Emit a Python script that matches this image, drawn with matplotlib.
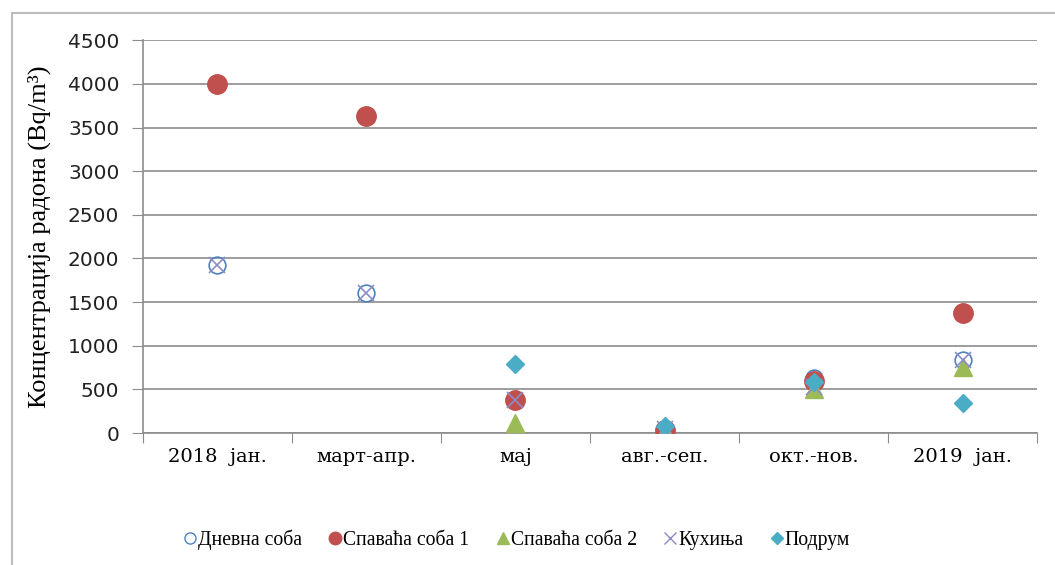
import numpy as np
import matplotlib
matplotlib.use("Agg")
import matplotlib.pyplot as plt
from matplotlib.lines import Line2D
from matplotlib.patches import Rectangle

periods = ["2018  јан.", "март-апр.", "мај", "авг.-сеп.", "окт.-нов.", "2019  јан."]
dnevna = [1930, 1600, 380, 50, 630, 840]
spavaca1 = [4000, 3630, 380, 40, 600, 1380]
spavaca2 = [np.nan, np.nan, 120, 20, 500, 760]
kuhinja = [1930, 1600, 380, 50, 530, 840]
podrum = [np.nan, np.nan, 790, 80, 590, 345]

labels = ["Дневна соба", "Спаваћа соба 1", "Спаваћа соба 2", "Кухиња", "Подрум"]

fig = plt.figure(figsize=(10.55, 5.65), dpi=100)
ax = fig.add_axes([0.1355, 0.2336, 0.8475, 0.695])

x = np.arange(len(periods))
grey = "#8c8c8c"

# series in the original drawing order
ax.plot(x, dnevna, linestyle="none", marker="o", ms=12, mfc="none",
        mec="#4F81BD", mew=1.2, zorder=3)
ax.plot(x, spavaca1, linestyle="none", marker="o", ms=14,
        color="#C0504D", zorder=4)
ax.plot(x, spavaca2, linestyle="none", marker="^", ms=13,
        color="#9BBB59", zorder=5)
ax.plot(x, kuhinja, linestyle="none", marker="x", ms=12, mew=1.2,
        color="#8C8CC8", zorder=6)
ax.plot(x, podrum, linestyle="none", marker="D", ms=9,
        color="#4BACC6", zorder=7)

ax.set_ylim(0, 4500)
ax.set_yticks(np.arange(0, 4501, 500))
ax.set_xlim(-0.5, len(periods) - 0.5)
ax.set_xticks(np.arange(-0.5, len(periods), 1.0))
ax.set_xticklabels([])
ax.set_xticks(x, minor=True)
ax.set_xticklabels(periods, minor=True, family="DejaVu Serif", fontsize=14)
ax.tick_params(axis="x", which="minor", length=0, pad=11)
ax.tick_params(axis="x", which="major", length=7, color=grey, direction="out")
ax.tick_params(axis="y", length=8, color=grey, direction="out", pad=9,
               labelsize=14.5, labelcolor="#222222")

ax.yaxis.grid(True, color=grey, linewidth=1.2)
ax.set_axisbelow(True)
for s in ["top", "right"]:
    ax.spines[s].set_visible(False)
for s in ["left", "bottom"]:
    ax.spines[s].set_color(grey)
    ax.spines[s].set_linewidth(1.2)

ax.set_ylabel("Концентрација радона (Bq/m³)", family="Liberation Serif",
              fontsize=19, labelpad=12)

handles = [
    Line2D([], [], linestyle="none", marker="o", ms=8, mfc="none", mec="#4F81BD"),
    Line2D([], [], linestyle="none", marker="o", ms=9, color="#C0504D"),
    Line2D([], [], linestyle="none", marker="^", ms=9, color="#9BBB59"),
    Line2D([], [], linestyle="none", marker="x", ms=9, color="#8C8CC8"),
    Line2D([], [], linestyle="none", marker="D", ms=6, color="#4BACC6"),
]
fig.legend(handles, labels, loc="center", bbox_to_anchor=(0.49, 0.045),
           ncol=5, frameon=False, handlelength=0.6, handletextpad=0.1,
           columnspacing=1.4, prop={"family": "Liberation Serif", "size": 14.2})

# light outer frame of the chart area
fig.patches.append(Rectangle((0.011, -0.01), 1.0, 0.987, transform=fig.transFigure,
                             fill=False, edgecolor="#bdbdbd", linewidth=1.5))

fig.savefig("out.png", dpi=100)
